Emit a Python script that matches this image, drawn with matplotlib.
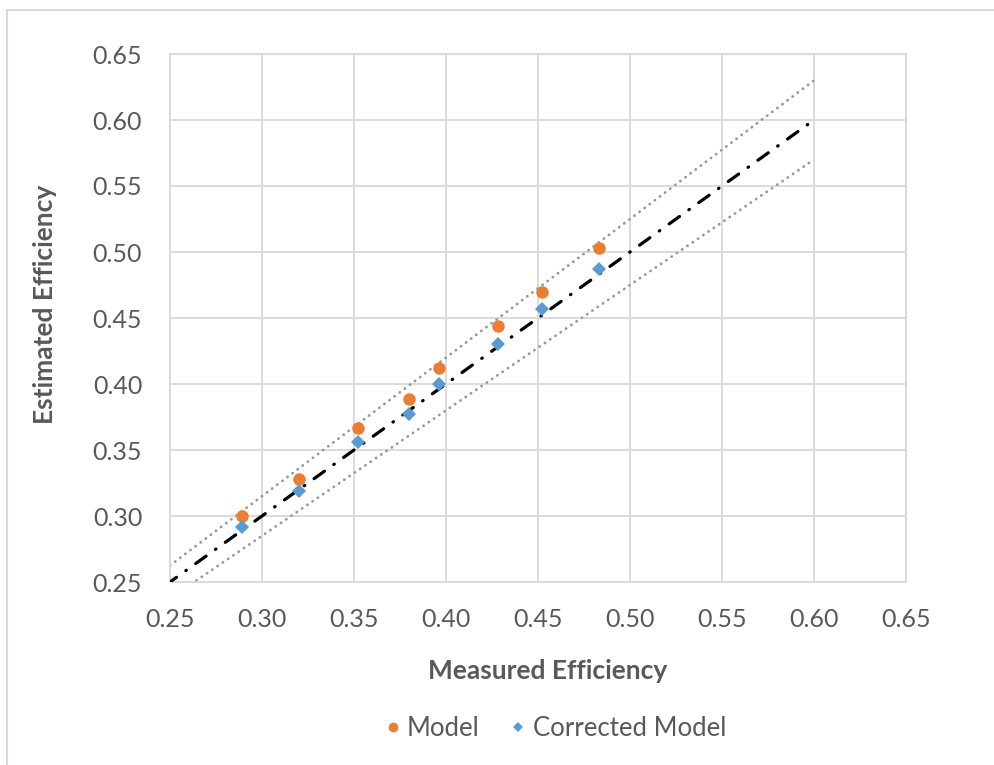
import matplotlib
matplotlib.use("Agg")
import matplotlib.pyplot as plt
from matplotlib.lines import Line2D
from matplotlib.patches import Rectangle

plt.rcParams['font.family'] = ['Lato', 'DejaVu Sans']

# measured vs estimated efficiency
measured = [0.289, 0.320, 0.352, 0.380, 0.396, 0.428, 0.452, 0.483]
model = [0.300, 0.328, 0.367, 0.389, 0.412, 0.444, 0.470, 0.503]
corrected = [0.292, 0.319, 0.356, 0.377, 0.400, 0.430, 0.457, 0.487]

# reference lines: y = x and +/- 5 %
ref_x = [0.25, 0.60]
band = 0.05

ticks = [0.25, 0.30, 0.35, 0.40, 0.45, 0.50, 0.55, 0.60, 0.65]

text_col = '#595959'
grid_col = '#D9D9D9'

fig = plt.figure(figsize=(9.94, 7.65), dpi=100)
fig.patches.append(Rectangle((7/994, -0.1), 1.2, 1 - 10/765 + 0.1, transform=fig.transFigure,
                             fill=False, edgecolor=grid_col, linewidth=1.5))

ax = fig.add_axes([170/994, 1 - 582/765, (906 - 170)/994, (582 - 54)/765])

ax.plot(ref_x, [v * (1 + band) for v in ref_x], color='#999999', lw=2.0,
        linestyle=(0, (0.1, 2.2)), dash_capstyle='round', zorder=2)
ax.plot(ref_x, [v * (1 - band) for v in ref_x], color='#999999', lw=2.0,
        linestyle=(0, (0.1, 2.2)), dash_capstyle='round', zorder=2)
ax.plot(ref_x, ref_x, color='black', lw=2.3,
        linestyle=(1.5, (4.0, 3.6, 0.2, 3.6)), dash_capstyle='round', zorder=3)

ax.plot(measured, model, 'o', color='#ED7D31', markersize=9, markeredgewidth=0, zorder=4)
ax.plot(measured, corrected, 'D', color='#5B9BD5', markersize=7, markeredgewidth=0, zorder=4)

ax.set_xlim(0.25, 0.65)
ax.set_ylim(0.25, 0.65)
ax.set_xticks(ticks)
ax.set_yticks(ticks)
ax.set_xticklabels(['%.2f' % t for t in ticks])
ax.set_yticklabels(['%.2f' % t for t in ticks])
ax.tick_params(length=0, labelsize=18, labelcolor=text_col)
ax.tick_params(axis='x', pad=19)
ax.tick_params(axis='y', pad=20)
ax.grid(True, color=grid_col, lw=1.3)
ax.set_axisbelow(True)
for s in ax.spines.values():
    s.set_color(grid_col)
    s.set_linewidth(1.3)

fig.text(548/994, 1 - 671/765, 'Measured Efficiency', ha='center', va='center',
         fontsize=19, fontweight='bold', color=text_col)
fig.text(45/994, 1 - 304/765, 'Estimated Efficiency', ha='center', va='center',
         rotation=90, fontsize=19, fontweight='bold', color=text_col)

handles = [Line2D([], [], ls='none', marker='o', color='#ED7D31', markersize=7, markeredgewidth=0),
           Line2D([], [], ls='none', marker='D', color='#5B9BD5', markersize=5.5, markeredgewidth=0)]
leg = fig.legend(handles, ['Model', 'Corrected Model'], loc='center',
                 bbox_to_anchor=(553/994, 1 - 728/765), ncol=2, frameon=False,
                 fontsize=18.5, handletextpad=0.05, columnspacing=1.0, handlelength=1.0)
for t in leg.get_texts():
    t.set_color(text_col)

fig.savefig('out.png', dpi=100)
